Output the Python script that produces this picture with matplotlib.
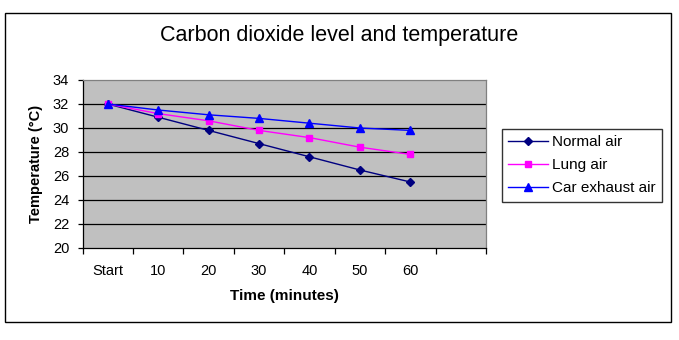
import matplotlib
matplotlib.use("Agg")
import matplotlib.pyplot as plt
from matplotlib.patches import Rectangle

plt.rcParams['font.family'] = ['Liberation Sans', 'DejaVu Sans']

categories = ["Start", "10", "20", "30", "40", "50", "60"]
normal_air = [32.0, 30.9, 29.8, 28.7, 27.6, 26.5, 25.5]
lung_air = [32.0, 31.2, 30.6, 29.8, 29.2, 28.4, 27.8]
car_exhaust_air = [32.0, 31.5, 31.1, 30.8, 30.4, 30.0, 29.8]
series_names = ["Normal air", "Lung air", "Car exhaust air"]
y_ticks = [20, 22, 24, 26, 28, 30, 32, 34]

W, H = 679, 340
fig = plt.figure(figsize=(W / 100, H / 100), dpi=100)
fig.patch.set_facecolor("white")

# outer chart border
fig.patches.append(Rectangle((4.5 / W, 1 - 322 / H), (671 - 4.5) / W, (322 - 13) / H,
                             transform=fig.transFigure, fill=False,
                             edgecolor="black", linewidth=1.0))

left, right, top, bottom = 82.5, 486, 80, 248
ax = fig.add_axes([left / W, 1 - bottom / H, (right - left) / W, (bottom - top) / H])
ax.set_facecolor("#C0C0C0")

x = list(range(len(categories)))
ax.plot(x, normal_air, color="#000080", marker="D", markersize=4.5, linewidth=1.0,
        label=series_names[0], zorder=3)
ax.plot(x, lung_air, color="#FF00FF", marker="s", markersize=5, linewidth=1.0,
        label=series_names[1], zorder=3)
ax.plot(x, car_exhaust_air, color="#0000FF", marker="^", markersize=6, linewidth=1.0,
        label=series_names[2], zorder=3)

ax.set_xlim(-0.5, len(categories) + 0.5)
ax.set_ylim(20, 34)
ax.set_yticks(y_ticks)
ax.set_yticklabels([str(v) for v in y_ticks], fontsize=10.5)

# gridlines
for v in y_ticks[1:-1]:
    ax.axhline(v, color="black", linewidth=0.9, zorder=1)

ax.set_xticks(x)
ax.set_xticklabels(categories, fontsize=10.5)
ax.set_xticks([i - 0.5 for i in range(len(categories) + 2)], minor=True)
ax.tick_params(axis="x", which="major", length=0, pad=11.5)
ax.tick_params(axis="x", which="minor", length=4.3, width=0.9, direction="out")
ax.tick_params(axis="y", which="major", length=3.6, width=0.9, direction="out", pad=6)

for s in ["left", "bottom"]:
    ax.spines[s].set_color("black")
    ax.spines[s].set_linewidth(0.9)
for s in ["top", "right"]:
    ax.spines[s].set_color("#808080")
    ax.spines[s].set_linewidth(0.9)

ax.set_xlabel("Time (minutes)", fontsize=11, fontweight="bold")
ax.xaxis.set_label_coords(0.5, (bottom - 296) / (bottom - top))
ax.xaxis.label.set_va("center")
ax.set_ylabel("Temperature (°C)", fontsize=10.5, fontweight="bold")
ax.yaxis.set_label_coords((36 - left) / (right - left), 0.5)
ax.yaxis.label.set_va("center")

fig.suptitle("Carbon dioxide level and temperature", fontsize=15.5, x=0.5,
             y=1 - 35 / H, va="center")

leg = fig.legend(loc="upper left", bbox_to_anchor=(502 / W, 1 - 129 / H),
                 fontsize=11, frameon=True, fancybox=False, edgecolor="black",
                 handlelength=2.6, handletextpad=0.3, labelspacing=0.6,
                 borderpad=0.4, borderaxespad=0)
leg.get_frame().set_linewidth(1.0)

fig.savefig("out.png", dpi=100)
